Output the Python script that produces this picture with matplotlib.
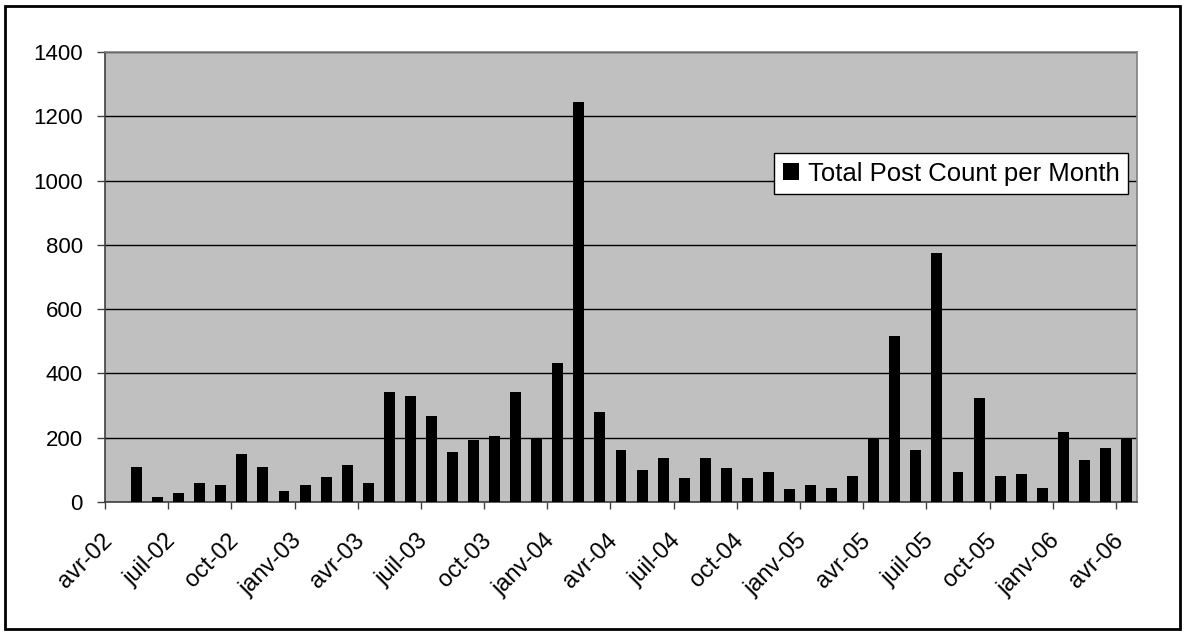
import matplotlib.pyplot as plt
import matplotlib.transforms as mtransforms
from matplotlib.patches import Rectangle

plt.rcParams['font.family'] = ['Liberation Sans', 'DejaVu Sans']

# Data: monthly post counts, mai-02 .. avr-06 (month index 1..48, avr-02 = 0)
counts = [108, 15, 27, 58, 52, 150, 108, 33, 52, 77, 114, 58,
          342, 329, 268, 157, 193, 206, 342, 200, 434, 1245, 280, 162,
          100, 138, 76, 138, 107, 76, 94, 40, 52, 45, 82, 200,
          515, 162, 776, 94, 323, 82, 88, 45, 218, 132, 169, 200]
first_month = 1
tick_labels = ['avr-02', 'juil-02', 'oct-02', 'janv-03', 'avr-03', 'juil-03',
               'oct-03', 'janv-04', 'avr-04', 'juil-04', 'oct-04', 'janv-05',
               'avr-05', 'juil-05', 'oct-05', 'janv-06', 'avr-06']
y_ticks = [0, 200, 400, 600, 800, 1000, 1200, 1400]

fig = plt.figure(figsize=(11.86, 6.34), dpi=100)
ax = fig.add_axes([105 / 1186, 1 - 502 / 634, 1032 / 1186, 450 / 634])
ax.set_facecolor('#C0C0C0')

x = [first_month + i + 0.5 for i in range(len(counts))]
ax.bar(x, counts, width=0.52, color='black', zorder=3,
       label='Total Post Count per Month')

ax.set_xlim(0, 49)
ax.set_ylim(0, 1400)
ax.set_yticks(y_ticks)
ax.set_xticks(range(0, 49, 3))
ax.set_xticklabels(tick_labels, rotation=45, ha='right', va='top',
                   rotation_mode='anchor')
ax.tick_params(axis='both', width=1, color='#404040')
ax.tick_params(axis='x', labelsize=17, length=5, pad=15)
ax.tick_params(axis='y', labelsize=16, length=6, pad=10)
ax.yaxis.grid(True, color='black', linewidth=1, zorder=1)
ax.set_axisbelow(True)

# nudge the rotated month labels a little to the left
shift = mtransforms.ScaledTranslation(-4 / 100, 0, fig.dpi_scale_trans)
for lbl in ax.get_xticklabels():
    lbl.set_transform(lbl.get_transform() + shift)

for side in ['top', 'right']:
    ax.spines[side].set_color('#808080')
for side in ['left', 'bottom']:
    ax.spines[side].set_color('#404040')
for s in ax.spines.values():
    s.set_linewidth(1.2)

leg = ax.legend(loc='upper right', bbox_to_anchor=(0.9915, 0.7756),
                fontsize=18.5, frameon=True, fancybox=False, framealpha=1,
                edgecolor='black', handlelength=0.62, handleheight=0.62,
                handletextpad=0.35, borderpad=0.34, borderaxespad=0)
leg.get_frame().set_linewidth(1)

fig.patches.append(Rectangle((5 / 1186, 5 / 634), 1175 / 1186, 623 / 634,
                             transform=fig.transFigure, fill=False,
                             edgecolor='black', linewidth=2))

fig.savefig('out.png', dpi=100)
